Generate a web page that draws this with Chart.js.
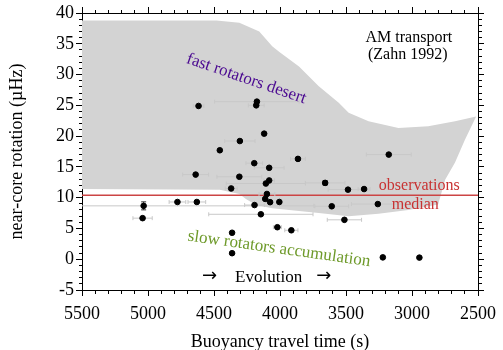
<!DOCTYPE html>
<html>
<head>
<meta charset="utf-8">
<script src="https://cdn.jsdelivr.net/npm/chart.js@4/dist/chart.umd.min.js"></script>
<style>
    html, body { margin: 0; padding: 0; background: #fff; }
</style>
</head>
<body>
<canvas id="rotationChart" width="503" height="350"></canvas>
<script>
// Stars: buoyancy travel time (s), near-core rotation (µHz) and their errors
const travelTime = [4617, 4175, 4180, 4120, 4304, 4456, 3864, 4195, 4082, 3176,
                    4639, 4308, 4082, 4107, 3658, 4370, 3485, 3363, 4099, 4112,
                    4075, 4005, 4777, 4630, 4193, 5033, 3608, 3259, 5041, 4145,
                    3512, 4020, 3914, 4363, 4363, 3221, 2944];
const rotation = [24.9, 25.6, 25.0, 20.4, 19.2, 17.7, 16.3, 15.6, 14.85, 17.0,
                  13.75, 13.4, 12.8, 12.3, 12.4, 11.5, 11.3, 11.4, 10.6, 9.8,
                  9.27, 9.3, 9.3, 9.3, 8.8, 8.67, 8.6, 8.96, 6.67, 7.3,
                  6.4, 5.2, 4.7, 4.3, 0.98, 0.3, 0.26];
const travelTimeErr = [40, 320, 60, 0, 115, 0, 56, 63, 113, 170,
                       98, 170, 40, 300, 150, 45, 150, 45, 60, 0,
                       0, 0, 63, 67, 75, 1290, 128, 200, 73, 395,
                       130, 30, 50, 0, 0, 0, 0];
const rotationErr = [0, 0, 0, 0, 0, 0, 0, 0, 0, 0,
                     0, 0, 0, 0, 0.35, 0, 0, 0, 0, 0,
                     0, 0, 0, 0, 0, 0.65, 0, 0, 0, 0,
                     0, 0, 0, 0, 0, 0, 0];

// Outline of the region allowed by AM transport (Zahn 1992)
const zoneTime = [5500, 4481, 4308, 4157, 4059, 4007, 3856, 3706, 3555, 3480,
                  3329, 3103, 2877, 2674, 2514, 2599, 2674, 2749, 2802, 3028,
                  3254, 3480, 3706, 3931, 4059, 4182, 4258, 4308, 4456, 5500];
const zoneRotation = [38.8, 38.8, 38.4, 37.0, 34.6, 33.7, 31.3, 28.1, 25.4, 23.8,
                      22.4, 21.3, 21.6, 22.4, 23.2, 19.4, 15.7, 12.9, 8.9, 8.0,
                      7.4, 7.0, 7.5, 8.0, 8.3, 8.8, 9.8, 10.6, 11.3, 11.4];

const medianRotation = 10.4;
const timeRange = [2500, 5500];
const rotationRange = [-5, 40];
const xMajorTicks = [5500, 5000, 4500, 4000, 3500, 3000, 2500];
const yMajorTicks = [-5, 0, 5, 10, 15, 20, 25, 30, 35, 40];

const SERIF = '"Liberation Serif", "DejaVu Serif", serif';
const ARROW = '"DejaVu Sans", sans-serif';

const notes = [
    { text: 'AM transport', time: 3024, rotation: 35.9, color: '#000', size: 16, angle: 0 },
    { text: '(Zahn 1992)', time: 3032, rotation: 33.2, color: '#000', size: 16, angle: 0 },
    { text: 'fast rotators desert', time: 4255, rotation: 29.3, color: '#4b0a91', size: 17, angle: 19 },
    { text: 'slow rotators accumulation', time: 4007, rotation: 1.67, color: '#6e9a2a', size: 17, angle: 8 },
    { text: 'observations', time: 2945, rotation: 11.9, color: '#c83232', size: 16, angle: 0 },
    { text: 'median', time: 2975, rotation: 8.9, color: '#c83232', size: 16, angle: 0 },
    { text: '\u2192', time: 4534, rotation: -2.8, color: '#000', size: 18, angle: 0, family: ARROW },
    { text: 'Evolution', time: 4086, rotation: -2.9, color: '#000', size: 17, angle: 0 },
    { text: '\u2192', time: 3668, rotation: -2.8, color: '#000', size: 18, angle: 0, family: ARROW }
];

Chart.defaults.font.family = SERIF;
Chart.defaults.color = '#000';

const stars = travelTime.map((t, i) => ({ x: t, y: rotation[i] }));
const zone = zoneTime.map((t, i) => ({ x: t, y: zoneRotation[i] }));

// error bars as segments split by gaps
const timeBars = [];
const rotationBars = [];
travelTime.forEach((t, i) => {
    if (travelTimeErr[i] > 0) {
        timeBars.push({ x: t - travelTimeErr[i], y: rotation[i] },
                      { x: t + travelTimeErr[i], y: rotation[i] },
                      { x: t, y: null });
    }
    if (rotationErr[i] > 0) {
        rotationBars.push({ x: t, y: rotation[i] - rotationErr[i] },
                          { x: t, y: rotation[i] + rotationErr[i] },
                          { x: t, y: null });
    }
});

const noteLabels = {
    id: 'noteLabels',
    afterDatasetsDraw(chart) {
        const { ctx, scales: { x, y } } = chart;
        notes.forEach(n => {
            ctx.save();
            ctx.translate(x.getPixelForValue(n.time), y.getPixelForValue(n.rotation));
            ctx.rotate(n.angle * Math.PI / 180);
            ctx.font = `${n.size}px ${n.family || SERIF}`;
            ctx.fillStyle = n.color;
            ctx.textAlign = 'center';
            ctx.textBaseline = 'middle';
            ctx.fillText(n.text, 0, 0);
            ctx.restore();
        });
    }
};

// minor ticks are half length, kept next to the frame
function tickGrid(majors, outerFirst) {
    const isMajor = c => majors.includes(c.tick && c.tick.value);
    return {
        drawOnChartArea: false,
        tickLength: 6,
        tickColor: '#000',
        tickWidth: 1,
        tickBorderDash: c => isMajor(c) ? [] : (outerFirst ? [3, 3] : [3, 10]),
        tickBorderDashOffset: c => isMajor(c) ? 0 : (outerFirst ? 3 : 0)
    };
}

const frame = { display: true, color: '#000', width: 1 };

new Chart(document.getElementById('rotationChart'), {
    type: 'scatter',
    data: {
        datasets: [
            {
                label: 'Stars',
                data: stars,
                backgroundColor: '#000',
                borderColor: '#000',
                pointRadius: 2.8,
                order: 0
            },
            {
                label: 'Time error',
                data: timeBars,
                showLine: true,
                spanGaps: false,
                borderColor: '#c8c8c8',
                borderWidth: 1,
                pointStyle: 'line',
                rotation: 90,
                pointRadius: 2,
                pointBorderColor: '#c8c8c8',
                pointBorderWidth: 1,
                order: 2
            },
            {
                label: 'Rotation error',
                data: rotationBars,
                showLine: true,
                spanGaps: false,
                borderColor: '#333',
                borderWidth: 1,
                pointStyle: 'line',
                pointRadius: 2.5,
                pointBorderColor: '#333',
                pointBorderWidth: 1,
                order: 1
            },
            {
                label: 'Observations median',
                data: [{ x: timeRange[1], y: medianRotation }, { x: timeRange[0], y: medianRotation }],
                showLine: true,
                borderColor: '#cc4444',
                borderWidth: 1.5,
                pointRadius: 0,
                order: 3
            },
            {
                label: 'AM transport',
                data: zone,
                showLine: true,
                fill: 'shape',
                backgroundColor: '#d3d3d3',
                borderWidth: 0,
                pointRadius: 0,
                tension: 0,
                order: 4
            }
        ]
    },
    options: {
        responsive: false,
        animation: false,
        events: [],
        layout: { padding: 0 },
        plugins: {
            legend: { display: false },
            tooltip: { enabled: false }
        },
        scales: {
            x: {
                type: 'linear',
                position: 'bottom',
                min: timeRange[0],
                max: timeRange[1],
                reverse: true,
                border: frame,
                grid: tickGrid(xMajorTicks, false),
                ticks: {
                    stepSize: 100,
                    autoSkip: false,
                    maxRotation: 0,
                    padding: 7,
                    font: { size: 18 },
                    color: '#000',
                    callback: v => xMajorTicks.includes(v) ? String(v) : ''
                },
                title: {
                    display: true,
                    text: 'Buoyancy travel time (s)',
                    font: { size: 18 },
                    color: '#000',
                    padding: { top: 0, bottom: -3 }
                },
                afterFit: s => { s.height = 60; }
            },
            x2: {
                type: 'linear',
                position: 'top',
                min: timeRange[0],
                max: timeRange[1],
                reverse: true,
                border: frame,
                grid: tickGrid(xMajorTicks, true),
                ticks: { display: false, stepSize: 100, autoSkip: false },
                afterFit: s => { s.height = 13; }
            },
            y: {
                type: 'linear',
                position: 'left',
                min: rotationRange[0],
                max: rotationRange[1],
                border: frame,
                grid: tickGrid(yMajorTicks, true),
                ticks: {
                    stepSize: 1,
                    autoSkip: false,
                    padding: 2,
                    font: { size: 18 },
                    color: '#000',
                    callback: v => yMajorTicks.includes(v) ? String(v) : ''
                },
                title: {
                    display: true,
                    text: 'near-core rotation (\u00b5Hz)',
                    font: { size: 18 },
                    color: '#000',
                    padding: { top: 6, bottom: 0 }
                },
                afterFit: s => { s.width = 82; }
            },
            y2: {
                type: 'linear',
                position: 'right',
                min: rotationRange[0],
                max: rotationRange[1],
                border: frame,
                grid: tickGrid(yMajorTicks, false),
                ticks: { display: false, stepSize: 1, autoSkip: false },
                afterFit: s => { s.width = 22; }
            }
        }
    },
    plugins: [noteLabels]
});
</script>
</body>
</html>
